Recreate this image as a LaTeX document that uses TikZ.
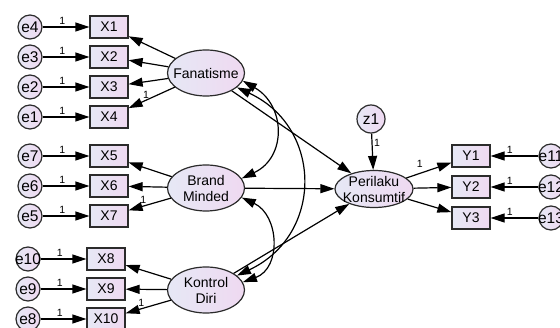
\documentclass[tikz,border=0pt]{standalone}
\usepackage{fontspec}
\setmainfont{Liberation Sans}
\usetikzlibrary{arrows.meta,shapes.geometric,positioning}

\definecolor{fillL}{HTML}{E6E8F5}
\definecolor{fillR}{HTML}{EFD9F1}
\definecolor{edgegray}{HTML}{2B2B2B}

\tikzset{
  obs/.style={rectangle, draw=edgegray, left color=fillL, right color=fillR,
    minimum width=38pt, minimum height=22pt, inner sep=0pt,
    font=\fontsize{14}{16}\selectfont},
  err/.style={circle, draw=edgegray, left color=fillL, right color=fillR,
    minimum size=24pt, inner sep=0pt, font=\fontsize{15.5}{16}\selectfont,
    execute at begin node={\hbox to 0pt\bgroup\hss},
    execute at end node={\hss\egroup}},
  latent/.style={ellipse, draw=edgegray, left color=fillL, right color=fillR,
    minimum width=77pt, minimum height=46pt, inner sep=0pt},
  lvname/.style={align=center, font=\fontsize{14}{16}\selectfont},
  one/.style={font=\fontsize{10.5}{11}\selectfont, inner sep=1.5pt},
}

\begin{document}
\begin{tikzpicture}[x=1pt, y=1pt, >={Triangle[length=14pt,width=9pt]}, node distance=30pt, line width=1.2pt]
    \useasboundingbox (0,0) rectangle (560,327);

    % latent variables
    \node[latent, label={[lvname]center:Fanatisme}]          (fan)   at (206,254) {};
    \node[latent, label={[lvname]center:Brand\\Minded}]      (brand) at (206,139) {};
    \node[latent, label={[lvname]center:Kontrol\\Diri}]      (kon)   at (206,37)  {};
    \node[latent, minimum width=78pt, minimum height=37pt,
          label={[lvname]center:Perilaku\\Konsumtif}]        (per)   at (374,138) {};
    \node[err, minimum size=28pt]                            (z1)    at (371,208) {z1};

    % indicators
    \node[obs] (x1)  at (109,300)    {X1};
    \node[obs] (x2)  [below of=x1]   {X2};
    \node[obs] (x3)  [below of=x2]   {X3};
    \node[obs] (x4)  [below of=x3]   {X4};
    \node[obs] (x5)  at (109,171)    {X5};
    \node[obs] (x6)  [below of=x5]   {X6};
    \node[obs] (x7)  [below of=x6]   {X7};
    \node[obs] (x8)  at (106,68)     {X8};
    \node[obs] (x9)  [below of=x8]   {X9};
    \node[obs] (x10) [below of=x9]   {X10};
    \node[obs] (y1)  at (471,171)    {Y1};
    \node[obs, node distance=31pt] (y2) [below of=y1] {Y2};
    \node[obs, node distance=31pt] (y3) [below of=y2] {Y3};

    % errors
    \node[err, node distance=79pt] (e4)  [left of=x1]  {e4};
    \node[err, node distance=79pt] (e3)  [left of=x2]  {e3};
    \node[err, node distance=79pt] (e2)  [left of=x3]  {e2};
    \node[err, node distance=79pt] (e1)  [left of=x4]  {e1};
    \node[err, node distance=79pt] (e7)  [left of=x5]  {e7};
    \node[err, node distance=79pt] (e6)  [left of=x6]  {e6};
    \node[err, node distance=79pt] (e5)  [left of=x7]  {e5};
    \node[err, node distance=78pt] (e10) [left of=x8]  {e10};
    \node[err, node distance=78pt] (e9)  [left of=x9]  {e9};
    \node[err, node distance=78pt] (e8)  [left of=x10] {e8};
    \node[err, node distance=80pt] (e11) [right of=y1] {e11};
    \node[err, node distance=80pt] (e12) [right of=y2] {e12};
    \node[err, node distance=80pt] (e13) [right of=y3] {e13};

    \path[->]   (e4)  edge node[one, above, pos=.42] {1} (x1)
                (e3)  edge node[one, above, pos=.42] {1} (x2)
                (e2)  edge node[one, above, pos=.42] {1} (x3)
                (e1)  edge node[one, above, pos=.42] {1} (x4)
                (e7)  edge node[one, above, pos=.42] {1} (x5)
                (e6)  edge node[one, above, pos=.42] {1} (x6)
                (e5)  edge node[one, above, pos=.42] {1} (x7)
                (e10) edge node[one, above, pos=.42] {1} (x8)
                (e9)  edge node[one, above, pos=.42] {1} (x9)
                (e8)  edge node[one, above, pos=.42] {1} (x10)
                (e11) edge node[one, above, pos=.6]  {1} (y1)
                (e12) edge node[one, above, pos=.6]  {1} (y2)
                (e13) edge node[one, above, pos=.6]  {1} (y3);

    \path[->]   (fan)   edge (x1) edge (x2) edge (x3)
                        edge node[one, above, pos=.62] {1} (x4)
                (brand) edge (x5) edge (x6)
                        edge node[one, above, pos=.65] {1} (x7)
                (kon)   edge (x8) edge (x9)
                        edge node[one, above, pos=.65] {1} (x10)
                (per)   edge node[one, above=4pt, pos=.3] {1} (y1)
                        edge (y2) edge (y3);

    \path[->]   (fan)   edge (per)
                (brand) edge (per)
                (kon)   edge (per)
                (z1)    edge node[one, right, pos=.25] {1} (per);

    % covariances
    \draw[<->] (fan.-12)   to[out=-30, in=25, looseness=1.3]  (brand.15);
    \draw[<->] (fan.-25)   to[out=-25, in=25, looseness=1.3]  (kon.25);
    \draw[<->] (brand.-15) to[out=-25, in=20, looseness=1.25] (kon.12);

\end{tikzpicture}
\end{document}
